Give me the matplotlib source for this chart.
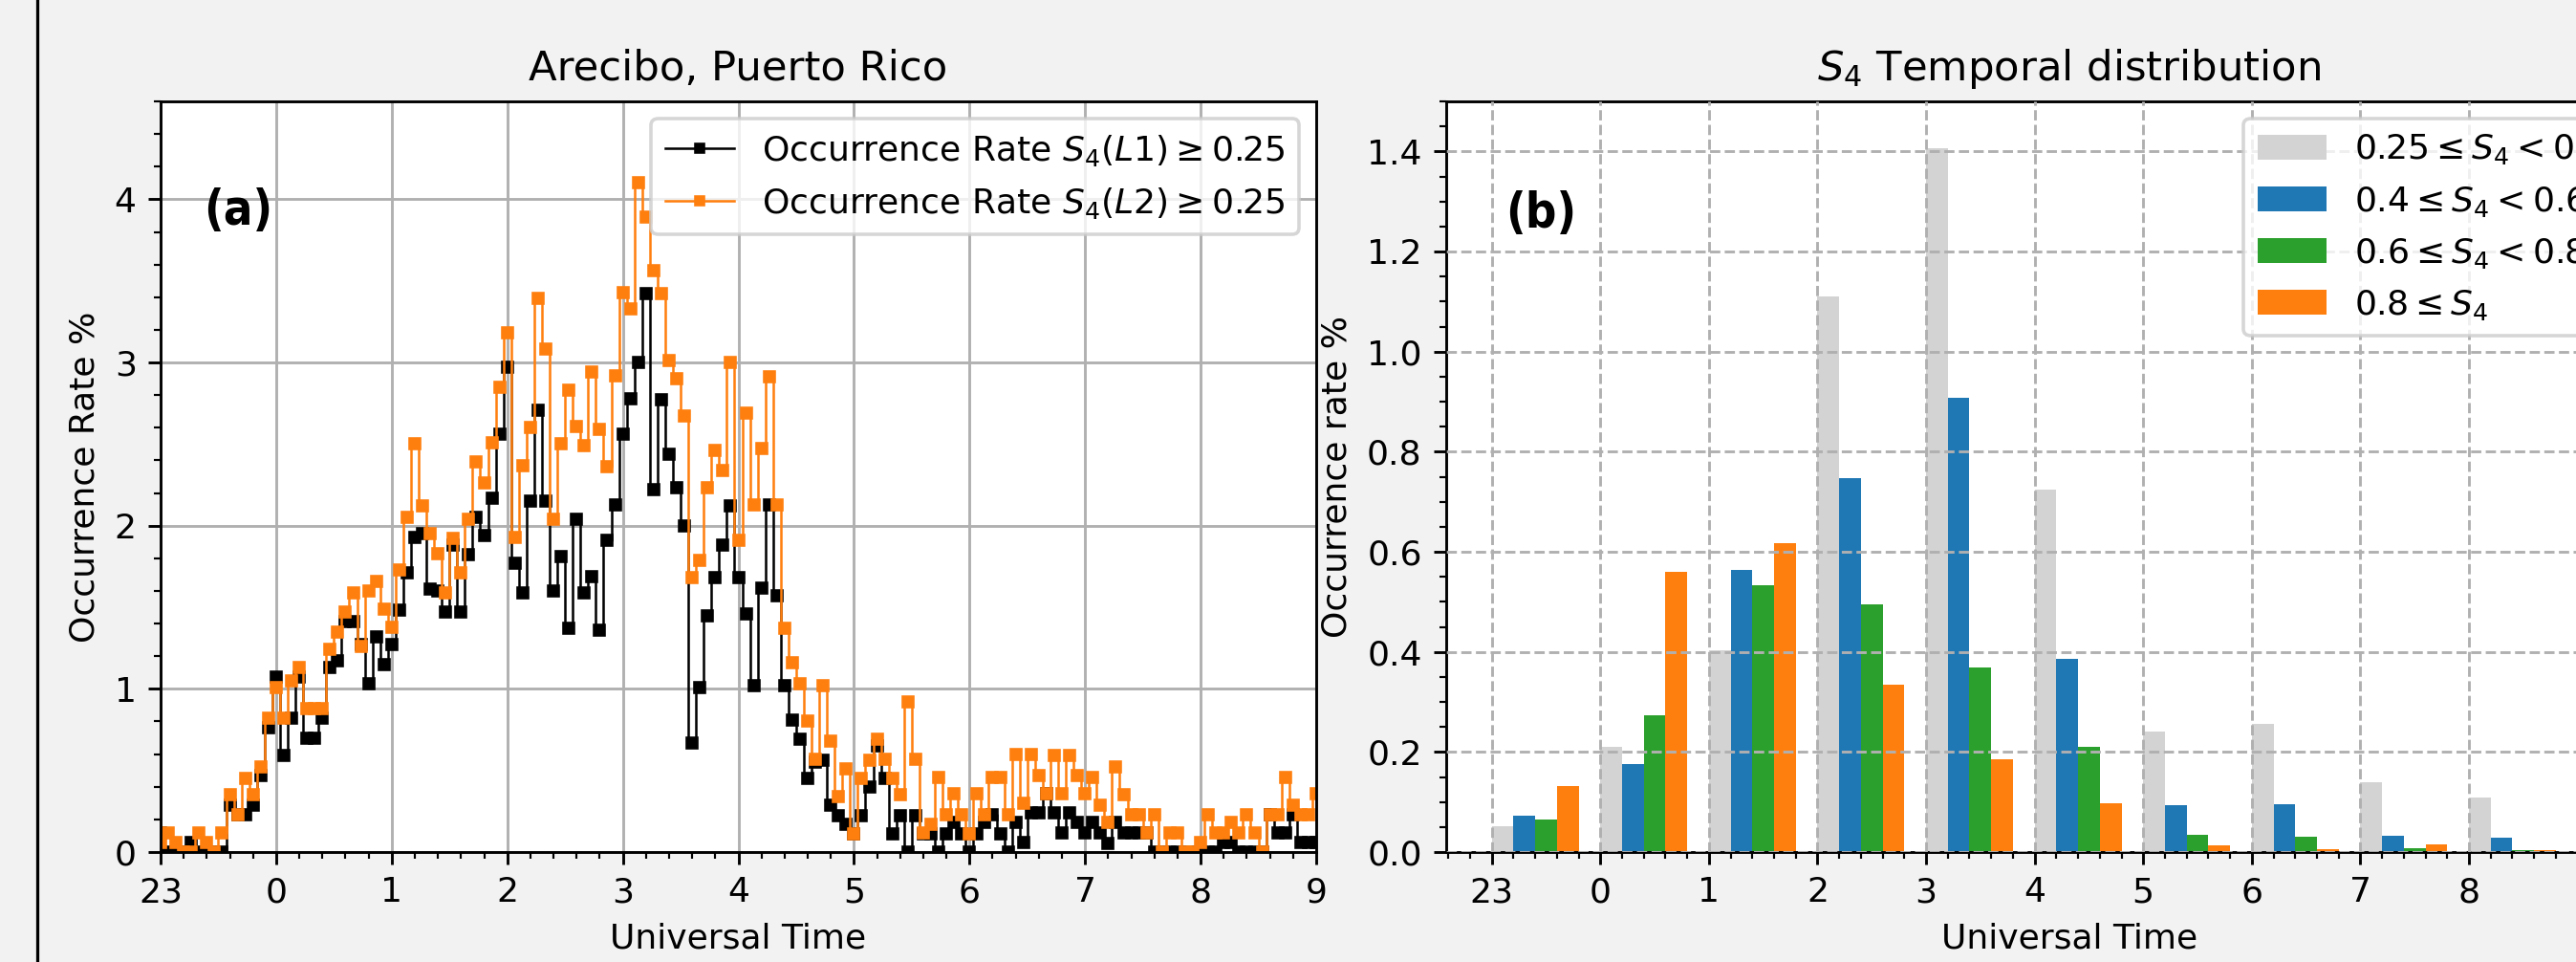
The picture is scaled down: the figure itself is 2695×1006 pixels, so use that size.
#!/usr/bin/env python3
"""
S4 scintillation occurrence over Arecibo.

  (a) occurrence rate of S4 >= 0.25 on L1 and L2 versus UT
  (b) temporal distribution of S4 by intensity class (hourly bars)

Writes out.png.
"""
import numpy as np
import matplotlib
matplotlib.use("Agg")
import matplotlib.pyplot as plt
from matplotlib.lines import Line2D
from matplotlib.ticker import MultipleLocator

# ---------------------------------------------------------------------------
# DATA
# ---------------------------------------------------------------------------
STEP_MIN = 4          # sampling of the occurrence curves, minutes, from 23 UT

# occurrence rate (%) of S4 >= 0.25, L1
RATE_L1 = [
    0.12, 0.00, 0.00, 0.00, 0.06, 0.00, 0.00, 0.00, 0.00, 0.29,
    0.23, 0.23, 0.29, 0.47, 0.76, 1.07, 0.59, 0.82, 1.07, 0.70,
    0.70, 0.82, 1.13, 1.17, 1.41, 1.41, 1.27, 1.03, 1.32, 1.15,
    1.27, 1.48, 1.71, 1.93, 1.95, 1.61, 1.60, 1.47, 1.88, 1.47,
    1.82, 2.05, 1.94, 2.17, 2.56, 2.97, 1.77, 1.59, 2.15, 2.71,
    2.15, 1.60, 1.81, 1.37, 2.04, 1.59, 1.69, 1.36, 1.91, 2.13,
    2.56, 2.78, 3.00, 3.42, 2.22, 2.77, 2.44, 2.23, 2.00, 0.67,
    1.01, 1.45, 1.68, 1.88, 2.12, 1.68, 1.46, 1.02, 1.62, 2.13,
    1.57, 1.02, 0.81, 0.69, 0.45, 0.55, 0.56, 0.29, 0.22, 0.17,
    0.11, 0.22, 0.40, 0.65, 0.45, 0.11, 0.22, 0.00, 0.22, 0.11,
    0.11, 0.00, 0.11, 0.18, 0.11, 0.00, 0.11, 0.18, 0.23, 0.11,
    0.00, 0.18, 0.06, 0.24, 0.24, 0.36, 0.24, 0.12, 0.24, 0.18,
    0.12, 0.18, 0.12, 0.05, 0.18, 0.12, 0.12, 0.12, 0.12, 0.00,
    0.00, 0.00, 0.00, 0.00, 0.00, 0.00, 0.00, 0.00, 0.06, 0.06,
    0.00, 0.00, 0.00, 0.00, 0.23, 0.12, 0.12, 0.23, 0.06, 0.06,
    0.06,
]

# occurrence rate (%) of S4 >= 0.25, L2
RATE_L2 = [
    0.06, 0.12, 0.06, 0.00, 0.00, 0.12, 0.06, 0.00, 0.12, 0.35,
    0.23, 0.45, 0.35, 0.52, 0.82, 1.01, 0.82, 1.05, 1.13, 0.88,
    0.88, 0.88, 1.24, 1.35, 1.47, 1.59, 1.26, 1.60, 1.66, 1.49,
    1.38, 1.73, 2.05, 2.50, 2.12, 1.95, 1.83, 1.59, 1.92, 1.71,
    2.04, 2.39, 2.26, 2.51, 2.85, 3.18, 1.93, 2.37, 2.60, 3.39,
    3.08, 2.04, 2.50, 2.83, 2.61, 2.49, 2.94, 2.59, 2.36, 2.92,
    3.43, 3.33, 4.10, 3.89, 3.56, 3.42, 3.01, 2.90, 2.67, 1.68,
    1.79, 2.23, 2.46, 2.34, 3.00, 1.91, 2.69, 2.13, 2.47, 2.91,
    2.13, 1.37, 1.16, 1.03, 0.80, 0.57, 1.02, 0.68, 0.34, 0.51,
    0.11, 0.45, 0.56, 0.69, 0.57, 0.45, 0.35, 0.92, 0.57, 0.12,
    0.17, 0.46, 0.23, 0.36, 0.23, 0.11, 0.36, 0.23, 0.46, 0.46,
    0.23, 0.60, 0.30, 0.60, 0.47, 0.36, 0.59, 0.36, 0.59, 0.47,
    0.36, 0.46, 0.29, 0.18, 0.52, 0.35, 0.23, 0.23, 0.12, 0.23,
    0.00, 0.12, 0.12, 0.00, 0.00, 0.06, 0.23, 0.12, 0.12, 0.18,
    0.12, 0.23, 0.12, 0.00, 0.23, 0.23, 0.46, 0.29, 0.23, 0.23,
    0.36,
]

# hourly bins (23 UT written as -1) and their labels
HOURS = [-1, 0, 1, 2, 3, 4, 5, 6, 7, 8]
HOUR_LABELS = ["23", "0", "1", "2", "3", "4", "5", "6", "7", "8"]
HOUR_LABELS_A = ["23", "0", "1", "2", "3", "4", "5", "6", "7", "8", "9"]

# occurrence rate (%) per S4 class and hour
S4_025_04 = [0.052, 0.211, 0.403, 1.110, 1.406, 0.725, 0.240, 0.256, 0.139, 0.109]
S4_04_06 = [0.072, 0.175, 0.564, 0.748, 0.908, 0.386, 0.094, 0.095, 0.032, 0.028]
S4_06_08 = [0.065, 0.274, 0.534, 0.495, 0.369, 0.210, 0.035, 0.030, 0.008, 0.004]
S4_08_UP = [0.131, 0.560, 0.617, 0.334, 0.186, 0.097, 0.013, 0.006, 0.016, 0.004]

CLASS_LABELS = [r"$0.25 \leq S_4 < 0.4$", r"$0.4 \leq S_4 < 0.6$",
                r"$0.6 \leq S_4 < 0.8$", r"$0.8 \leq S_4$"]
CLASS_COLORS = ["lightgrey", "#1f77b4", "#2ca02c", "#ff7f0e"]

# ---------------------------------------------------------------------------
# SETTINGS
# ---------------------------------------------------------------------------
W_PX, H_PX, DPI = 2695, 1006, 260
BG = "#f2f2f2"
PANEL_LABEL = dict(fontsize=14, fontweight="bold", fontstretch="condensed",
                   family=["DejaVu Sans Condensed", "DejaVu Sans"],
                   va="center", ha="left")


def plot_rates(ax):
    ut = -1 + np.arange(len(RATE_L1)) * STEP_MIN / 60.0
    ax.plot(ut, RATE_L1, "-s", color="k", lw=0.7, ms=2.8, ds="steps-mid",
            label=r"Occurrence Rate $S_4(L1) \geq 0.25$")
    ax.plot(ut, RATE_L2, "-s", color="#ff7f0e", lw=0.7, ms=2.8, ds="steps-mid",
            label=r"Occurrence Rate $S_4(L2) \geq 0.25$")
    ax.set_xlim(-1, 9); ax.set_ylim(0, 4.6)
    ax.set_xticks(range(-1, 10)); ax.set_xticklabels(HOUR_LABELS_A)
    ax.xaxis.set_minor_locator(MultipleLocator(0.2))
    ax.yaxis.set_minor_locator(MultipleLocator(0.2))
    ax.grid(True)
    ax.set_title("Arecibo, Puerto Rico")
    ax.set_xlabel("Universal Time"); ax.set_ylabel("Occurrence Rate %")
    ax.legend(loc="upper right", markerscale=0.85)
    ax.text(0.037, 0.854, "(a)", transform=ax.transAxes, **PANEL_LABEL)


def plot_classes(ax):
    hrs = np.array(HOURS, dtype=float)
    for i, (vals, c, lab) in enumerate(zip([S4_025_04, S4_04_06, S4_06_08, S4_08_UP],
                                           CLASS_COLORS, CLASS_LABELS)):
        ax.bar(hrs + 0.2 * i, vals, width=0.2, align="edge", color=c, label=lab)
    ax.set_xlim(-1.42, 10.06); ax.set_ylim(0, 1.5)
    ax.set_xticks(HOURS); ax.set_xticklabels(HOUR_LABELS)
    ax.xaxis.set_minor_locator(MultipleLocator(0.2))
    ax.yaxis.set_major_locator(MultipleLocator(0.2))
    ax.yaxis.set_minor_locator(MultipleLocator(0.05))
    ax.set_axisbelow(False)
    ax.grid(True, ls="--")
    ax.set_title(r"$S_4$ Temporal distribution")
    ax.set_xlabel("Universal Time"); ax.set_ylabel("Occurrence rate %")
    ax.legend(loc="upper left", bbox_to_anchor=(0.626, 1.0))
    ax.text(0.048, 0.85, "(b)", transform=ax.transAxes, **PANEL_LABEL)


if __name__ == "__main__":
    fig = plt.figure(figsize=(W_PX / DPI, H_PX / DPI), dpi=DPI, facecolor=BG)
    ax_a = fig.add_axes([168 / W_PX, 115 / H_PX, 1209 / W_PX, 785 / H_PX])
    ax_b = fig.add_axes([1513 / W_PX, 115 / H_PX, 1304 / W_PX, 785 / H_PX])
    plot_rates(ax_a)
    plot_classes(ax_b)
    # frame line down the left edge
    fig.add_artist(Line2D([39 / W_PX, 39 / W_PX], [0, 1], color="k", lw=0.9,
                          transform=fig.transFigure))
    fig.savefig("out.png", dpi=DPI, facecolor=fig.get_facecolor())
